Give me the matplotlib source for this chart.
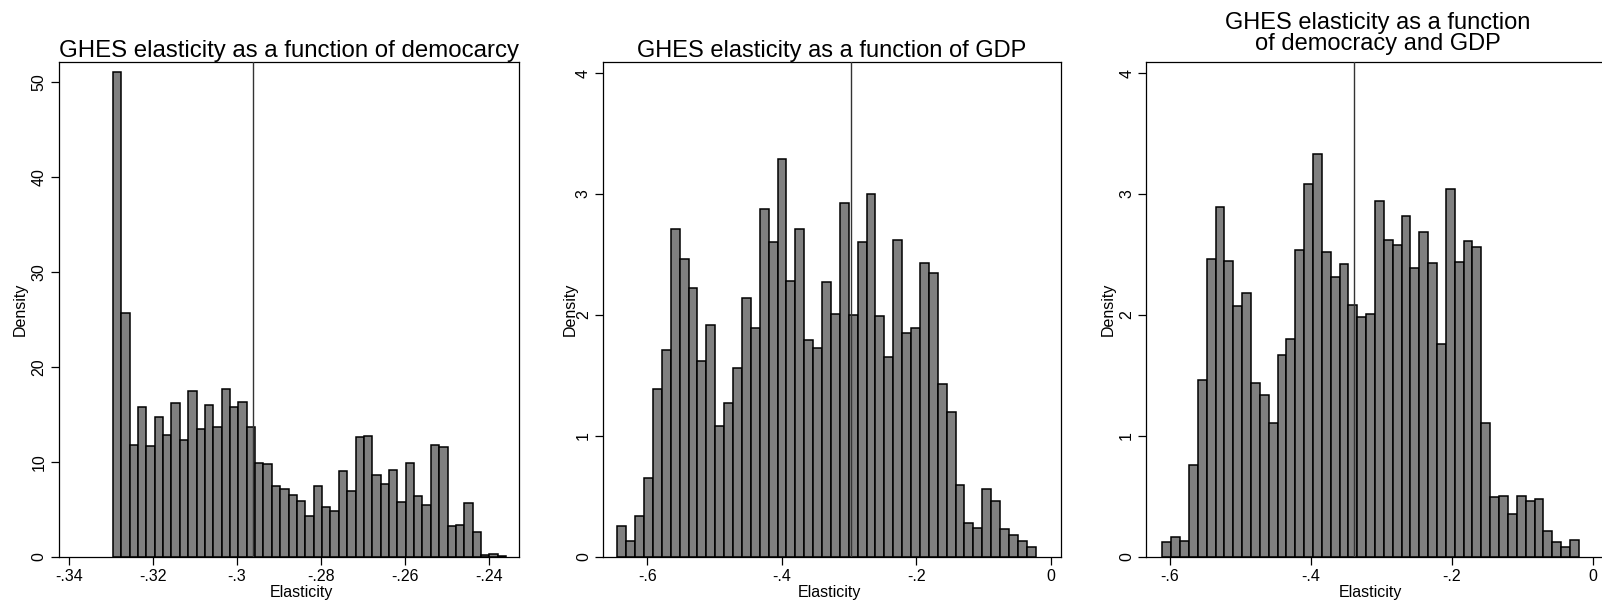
import matplotlib
matplotlib.use("Agg")
import matplotlib.pyplot as plt
import numpy as np

plt.rcParams['font.family'] = ['Liberation Sans', 'DejaVu Sans']

# panel 1: democracy
dem_heights = [51.0, 25.7, 11.8, 15.8, 11.7, 14.75, 12.8, 16.2, 12.3, 17.4,
               13.45, 16.0, 13.6, 17.7, 15.8, 16.3, 13.7, 9.85, 9.8, 7.45,
               7.1, 6.5, 5.9, 4.3, 7.45, 5.2, 4.8, 9.0, 6.9, 12.6,
               12.7, 8.6, 7.7, 9.1, 5.75, 9.9, 6.4, 5.4, 11.8, 11.5,
               3.25, 3.3, 5.7, 2.6, 0.15, 0.3, 0.1]
dem_start, dem_width = -0.3295, 0.001993
dem_line = -0.2962

# panel 2: GDP
gdp_heights = [0.254, 0.127, 0.333, 0.65, 1.39, 1.71, 2.71, 2.46, 2.22, 1.62,
               1.92, 1.08, 1.27, 1.56, 2.14, 1.89, 2.88, 2.60, 3.29, 2.28,
               2.71, 1.79, 1.73, 2.27, 2.01, 2.93, 2.00, 2.60, 3.00, 1.99,
               1.65, 2.62, 1.85, 1.89, 2.43, 2.35, 1.43, 1.20, 0.59, 0.28,
               0.235, 0.56, 0.46, 0.23, 0.18, 0.13, 0.08]
gdp_start, gdp_width = -0.6446, 0.01324
gdp_line = -0.297

# panel 3: democracy and GDP
both_heights = [0.12, 0.16, 0.13, 0.755, 1.46, 2.46, 2.89, 2.45, 2.07, 2.18,
                1.44, 1.34, 1.11, 1.67, 1.80, 2.54, 3.08, 3.33, 2.52, 2.31,
                2.42, 2.08, 1.98, 2.01, 2.94, 2.62, 2.58, 2.82, 2.39, 2.69,
                2.43, 1.76, 3.04, 2.44, 2.61, 2.56, 1.11, 0.49, 0.50, 0.35,
                0.50, 0.46, 0.48, 0.21, 0.12, 0.08, 0.14]
both_start, both_width = -0.6108, 0.012566
both_line = -0.3384

W, H = 1602, 601
fig = plt.figure(figsize=(W / 100, H / 100), dpi=100)


def px_axes(left, right, top=62.3, bottom=556.7):
    return fig.add_axes([left / W, 1 - bottom / H, (right - left) / W, (bottom - top) / H])


def draw_panel(ax, heights, start, width, vline, xlim, ylim, xticks, xlabels,
               yticks, ylab_x, xlab_x):
    edges = start + width * np.arange(len(heights))
    ax.bar(edges, heights, width=width, align='edge', color='#808080',
           edgecolor='black', linewidth=1.1, zorder=2)
    ax.axvline(vline, color='#333333', linewidth=1.0, zorder=3)
    ax.set_xlim(*xlim)
    ax.set_ylim(*ylim)
    ax.set_xticks(xticks)
    ax.set_xticklabels(xlabels, fontsize=11.5)
    ax.set_yticks(yticks)
    ax.set_yticklabels([str(t) for t in yticks], fontsize=11.5, rotation=90, va='center')
    ax.tick_params(direction='out', length=5.5, width=0.9, pad=3, color='black')
    for s in ax.spines.values():
        s.set_linewidth(0.9)
    ax.set_ylabel('Density', fontsize=11.5)
    ax.yaxis.set_label_coords(ylab_x, 0.5)
    ax.set_xlabel('Elasticity', fontsize=11.5)
    ax.xaxis.set_label_coords(xlab_x, -0.058)


ax1 = px_axes(58.5, 519.3)
draw_panel(ax1, dem_heights, dem_start, dem_width, dem_line,
           (-0.34243, -0.23271), (0, 52.04),
           [-0.34, -0.32, -0.30, -0.28, -0.26, -0.24],
           ['-.34', '-.32', '-.3', '-.28', '-.26', '-.24'],
           [0, 10, 20, 30, 40, 50], -30.5 / 460.8, 0.528)
ax1.set_title('GHES elasticity as a function of democarcy', fontsize=17.3, pad=4)

ax2 = px_axes(602.7, 1061)
draw_panel(ax2, gdp_heights, gdp_start, gdp_width, gdp_line,
           (-0.6663, 0.0153), (0, 4.09),
           [-0.6, -0.4, -0.2, 0], ['-.6', '-.4', '-.2', '0'],
           [0, 1, 2, 3, 4], -25 / 458.3, 0.494)
ax2.set_title('GHES elasticity as a function of GDP', fontsize=17, pad=4)

ax3 = px_axes(1146, 1610)
draw_panel(ax3, both_heights, both_start, both_width, both_line,
           (-0.634, 0.024), (0, 4.09),
           [-0.6, -0.4, -0.2, 0], ['-.6', '-.4', '-.2', '0'],
           [0, 1, 2, 3, 4], -30 / 464, 0.483)
ax3.set_title('GHES elasticity as a function\nof democracy and GDP',
              fontsize=17, pad=9, linespacing=0.95)

fig.savefig('out.png', dpi=100)
